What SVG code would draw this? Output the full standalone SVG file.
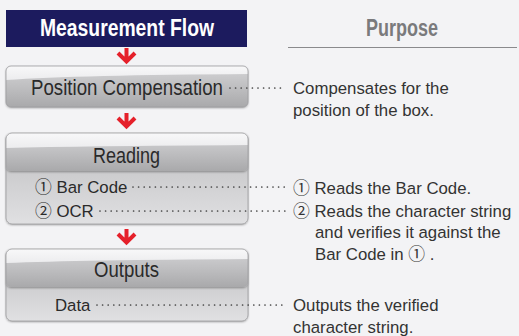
<svg xmlns="http://www.w3.org/2000/svg" width="519" height="336" viewBox="0 0 519 336">
<defs>
<linearGradient id="bar" x1="0" y1="0" x2="0" y2="1">
<stop offset="0" stop-color="#d4d4d6"/>
<stop offset="0.55" stop-color="#bdbdbf"/>
<stop offset="1" stop-color="#a9a9ab"/>
</linearGradient>
<linearGradient id="gloss" x1="0" y1="0" x2="0" y2="1">
<stop offset="0" stop-color="#f8f8f9"/>
<stop offset="1" stop-color="#ececee"/>
</linearGradient>
<linearGradient id="panel" x1="0" y1="0" x2="0" y2="1">
<stop offset="0" stop-color="#bdbdbf"/>
<stop offset="1" stop-color="#e0e0e2"/>
</linearGradient>
<filter id="sh" x="-5%" y="-10%" width="110%" height="130%">
<feDropShadow dx="0" dy="1" stdDeviation="1.2" flood-color="#000" flood-opacity="0.35"/>
</filter>
<g id="arrow">
<path d="M0,0 V13 M-8.5,5 L0,13.5 L8.5,5" fill="none" stroke="#e5202a" stroke-width="4"/>
</g>
</defs>
<style>
.lbl{font-family:"Liberation Sans","Noto Sans CJK JP",sans-serif;font-size:22px;fill:#2a2a2a;text-anchor:middle}
.sub{font-family:"Liberation Sans","Noto Sans CJK JP",sans-serif;font-size:16.8px;fill:#2a2a2a}
.txt{font-family:"Liberation Sans","Noto Sans CJK JP",sans-serif;font-size:16.8px;fill:#333}
.hd{font-family:"Liberation Sans",sans-serif;font-weight:bold;font-size:23px;text-anchor:middle}
.dots{fill:none;stroke:#444;stroke-width:1.7;stroke-linecap:round;stroke-dasharray:0 5.6}
.edge{fill:none;stroke:#9c9c9e;stroke-width:0.8}
</style>
<rect x="0" y="0" width="519" height="336" fill="#f3f3f5"/>

<g id="header-flow">
<rect x="6" y="10" width="241" height="37" fill="#1c1b5e"/>
<text class="hd" x="127" y="36" fill="#ffffff" textLength="174" lengthAdjust="spacingAndGlyphs">Measurement Flow</text>
</g>
<g id="header-purpose">
<text class="hd" x="402" y="36" fill="#7a7a7c" textLength="72" lengthAdjust="spacingAndGlyphs">Purpose</text>
<line x1="288" y1="47.5" x2="517" y2="47.5" stroke="#8a8a8c" stroke-width="1"/>
</g>

<g id="node-position">
<rect x="6" y="66" width="242" height="41" rx="5" fill="url(#bar)" filter="url(#sh)"/>
<path d="M6,71 a5,5 0 0 1 5,-5 H243 a5,5 0 0 1 5,5 V74 Q80,75 6,80 Z" fill="url(#gloss)"/>
<rect x="6" y="66" width="242" height="41" rx="5" class="edge"/>
<text class="lbl" x="127" y="95" textLength="192" lengthAdjust="spacingAndGlyphs">Position Compensation</text>
</g>

<g id="node-reading">
<rect x="6" y="133" width="242" height="91" rx="6" fill="url(#panel)" filter="url(#sh)"/>
<rect x="6" y="133" width="242" height="38" rx="5" fill="url(#bar)" filter="url(#sh)"/>
<path d="M6,138 a5,5 0 0 1 5,-5 H243 a5,5 0 0 1 5,5 V145 Q80,146 6,148 Z" fill="url(#gloss)"/>
<rect x="6" y="133" width="242" height="91" rx="6" class="edge"/>
<text class="lbl" x="126.5" y="163" textLength="67" lengthAdjust="spacingAndGlyphs">Reading</text>
<text class="sub" x="35" y="193">① Bar Code</text>
<text class="sub" x="35" y="217">② OCR</text>
</g>

<g id="node-outputs">
<rect x="6" y="249" width="242" height="72" rx="6" fill="url(#panel)" filter="url(#sh)"/>
<rect x="6" y="249" width="242" height="38" rx="5" fill="url(#bar)" filter="url(#sh)"/>
<path d="M6,254 a5,5 0 0 1 5,-5 H243 a5,5 0 0 1 5,5 V259 Q80,260 6,263 Z" fill="url(#gloss)"/>
<rect x="6" y="249" width="242" height="72" rx="6" class="edge"/>
<text class="lbl" x="126.5" y="277" textLength="65" lengthAdjust="spacingAndGlyphs">Outputs</text>
<text class="sub" x="55" y="311">Data</text>
</g>

<g id="purpose-texts">
<text class="txt" x="293" y="94">Compensates for the</text>
<text class="txt" x="293" y="116">position of the box.</text>
<text class="txt" x="293" y="194">① Reads the Bar Code.</text>
<text class="txt" x="293" y="217">② Reads the character string</text>
<text class="txt" x="315" y="238">and verifies it against the</text>
<text class="txt" x="315" y="260">Bar Code in ① .</text>
<text class="txt" x="293" y="311">Outputs the verified</text>
<text class="txt" x="293" y="333">character string.</text>
</g>

<g id="connectors">
<use href="#arrow" x="126.5" y="48"/>
<use href="#arrow" x="126.5" y="113"/>
<use href="#arrow" x="126.5" y="229"/>
<line class="dots" x1="230" y1="88" x2="285" y2="88"/>
<line class="dots" x1="133" y1="187" x2="285" y2="187"/>
<line class="dots" x1="100" y1="211" x2="285" y2="211"/>
<line class="dots" x1="97" y1="305" x2="285" y2="305"/>
</g>
</svg>
